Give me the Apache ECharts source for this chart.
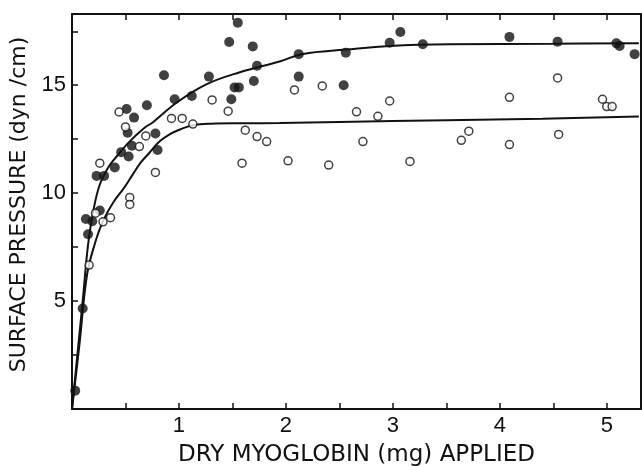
<!DOCTYPE html>
<html>
<head>
<meta charset="utf-8">
<script src="https://cdn.jsdelivr.net/npm/echarts@6/dist/echarts.min.js"></script>
<style>
  html, body { margin: 0; padding: 0; background: #fff; }
  #chart { width: 642px; height: 466px; }
</style>
</head>
<body>
<div id="chart"></div>
<script>
// Surface pressure vs. amount of dry myoglobin applied
var filledPoints = [
  [0.03, 0.85], [0.10, 4.66], [0.13, 8.8], [0.19, 8.7], [0.15, 8.1], [0.26, 9.2],
  [0.23, 10.8], [0.30, 10.8], [0.40, 11.19], [0.46, 11.9], [0.53, 11.7], [0.56, 12.2],
  [0.52, 12.8], [0.51, 13.9], [0.58, 13.5], [0.70, 14.07], [0.78, 12.76], [0.80, 12.0],
  [0.86, 15.46], [0.96, 14.35], [1.12, 14.5], [1.28, 15.4], [1.47, 17.0], [1.55, 17.9],
  [1.49, 14.35], [1.52, 14.9], [1.56, 14.9], [1.69, 16.8], [1.70, 15.2], [1.73, 15.9],
  [2.12, 16.44], [2.12, 15.4], [2.54, 15.0], [2.56, 16.51], [2.97, 16.97], [3.07, 17.47],
  [3.28, 16.9], [4.09, 17.24], [4.54, 17.02], [5.09, 16.94], [5.12, 16.82], [5.26, 16.44]
];
var openPoints = [
  [0.16, 6.67], [0.22, 9.07], [0.29, 8.67], [0.36, 8.86], [0.26, 11.39], [0.54, 9.8],
  [0.54, 9.48], [0.78, 10.96], [0.44, 13.76], [0.50, 13.07], [0.63, 12.16], [0.69, 12.65],
  [0.93, 13.46], [1.03, 13.46], [1.13, 13.2], [1.31, 14.32], [1.46, 13.8], [1.59, 11.39],
  [1.62, 12.92], [1.73, 12.62], [1.82, 12.39], [2.02, 11.5], [2.08, 14.78], [2.34, 14.97],
  [2.40, 11.3], [2.66, 13.77], [2.72, 12.39], [2.86, 13.56], [2.97, 14.27], [3.16, 11.47],
  [3.64, 12.45], [3.71, 12.87], [4.09, 14.44], [4.09, 12.25], [4.54, 15.34], [4.55, 12.72],
  [4.96, 14.35], [5.0, 14.01], [5.05, 14.01]
];
// hand-fitted saturation curves through each set
var upperCurve = [
  [0, 0], [0.05, 2.5], [0.1, 5.0], [0.15, 7.6], [0.2, 9.2], [0.26, 10.4], [0.34, 11.2],
  [0.4, 11.6], [0.54, 12.4], [0.67, 13.0], [0.76, 13.3], [0.98, 14.2], [1.26, 15.05],
  [1.57, 15.6], [1.94, 16.1], [2.16, 16.45], [2.56, 16.65], [2.97, 16.82], [3.53, 16.9],
  [4.5, 16.92], [5.3, 16.95]
];
var lowerCurve = [
  [0, 0], [0.07, 3.0], [0.14, 6.2], [0.21, 7.6], [0.29, 8.7], [0.39, 9.6], [0.48, 10.2],
  [0.56, 10.8], [0.64, 11.4], [0.72, 11.85], [0.82, 12.4], [0.92, 12.75], [1.01, 12.95],
  [1.13, 13.15], [1.3, 13.22], [1.6, 13.24], [1.94, 13.25], [2.5, 13.3], [3.5, 13.38],
  [4.4, 13.45], [5.3, 13.55]
];
var xLabels = [1, 2, 3, 4, 5];
var yLabels = [5, 10, 15];

var FONT = 'Liberation Sans';
var TITLE_FONT = 'DejaVu Sans';
var INK = '#111';

var chart = echarts.init(document.getElementById('chart'));
var baseX = {
  type: 'value', min: 0, max: 5.32, interval: 0.5,
  splitLine: { show: false },
  axisLine: { show: true, onZero: false, lineStyle: { color: INK, width: 2 } },
  axisTick: { show: true, inside: true, length: 6, lineStyle: { color: INK, width: 1.5 } }
};
var baseY = {
  type: 'value', min: 0, max: 18.3, interval: 2.5,
  splitLine: { show: false },
  axisLine: { show: true, onZero: false, lineStyle: { color: INK, width: 2 } },
  axisTick: { show: true, inside: true, length: 6, lineStyle: { color: INK, width: 1.5 } }
};
chart.setOption({
  animation: false,
  backgroundColor: '#fff',
  grid: { left: 72, right: 1, top: 14, bottom: 57, containLabel: false, outerBoundsMode: 'none' },
  xAxis: [
    Object.assign({}, baseX, {
      position: 'bottom',
      name: 'DRY MYOGLOBIN (mg) APPLIED',
      nameLocation: 'middle', nameGap: 35,
      nameTextStyle: { fontFamily: TITLE_FONT, fontSize: 23, color: INK },
      axisLabel: {
        margin: 6, fontFamily: FONT, fontSize: 22, color: INK,
        formatter: function (v) { return xLabels.indexOf(v) >= 0 ? String(v) : ''; }
      }
    }),
    Object.assign({}, baseX, { position: 'top', axisLabel: { show: false } })
  ],
  yAxis: [
    Object.assign({}, baseY, {
      position: 'left',
      name: 'SURFACE PRESSURE (dyn /cm)',
      nameLocation: 'middle', nameGap: 41,
      nameTextStyle: { fontFamily: TITLE_FONT, fontSize: 22, color: INK, padding: [0, 0, 0, 14] },
      axisLabel: {
        margin: 6, fontFamily: FONT, fontSize: 22, color: INK,
        formatter: function (v) { return yLabels.indexOf(v) >= 0 ? String(v) : ''; }
      }
    }),
    Object.assign({}, baseY, {
      position: 'right', axisTick: { show: false }, axisLabel: { show: false }
    })
  ],
  series: [
    {
      type: 'line', data: upperCurve, smooth: 0.4, showSymbol: false,
      lineStyle: { color: INK, width: 2 }, z: 2
    },
    {
      type: 'line', data: lowerCurve, smooth: 0.4, showSymbol: false,
      lineStyle: { color: INK, width: 2 }, z: 2
    },
    {
      type: 'scatter', data: filledPoints, symbol: 'circle', symbolSize: 10,
      itemStyle: { color: INK }, z: 3
    },
    {
      type: 'scatter', data: openPoints, symbol: 'circle', symbolSize: 8,
      itemStyle: { color: '#fff', borderColor: INK, borderWidth: 1.5 }, z: 3
    }
  ]
});
</script>
</body>
</html>
